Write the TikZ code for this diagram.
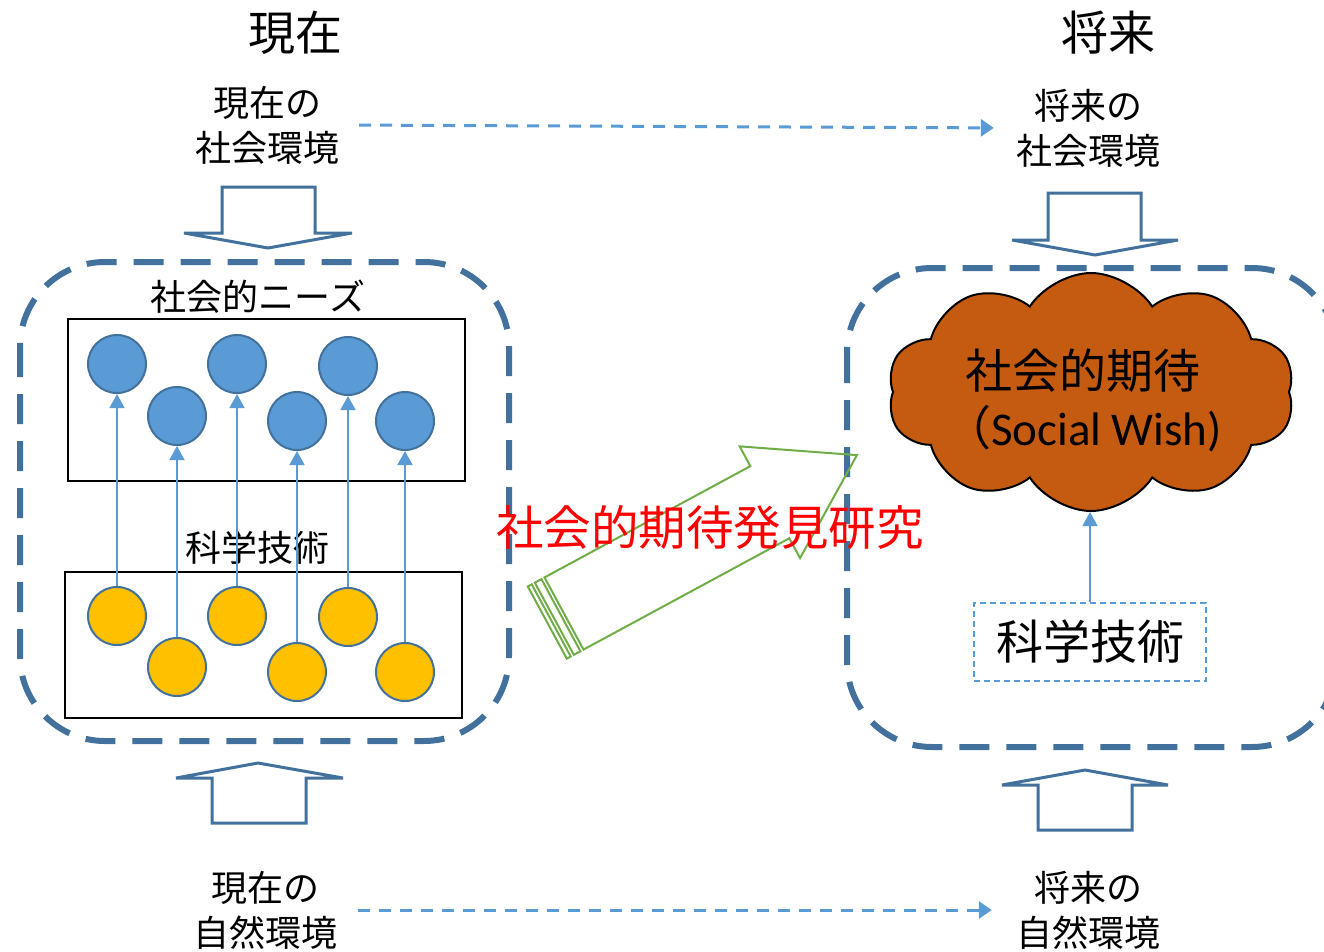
\documentclass[tikz,border=0pt]{standalone}
\usepackage{fontspec}
\setmainfont{Noto Sans CJK JP}
\newfontfamily\lat{Carlito}
\usetikzlibrary{shapes.symbols,arrows.meta}
\definecolor{boxblue}{HTML}{41719C}
\definecolor{lblue}{HTML}{5B9BD5}
\definecolor{gold}{HTML}{FFC000}
\definecolor{agreen}{HTML}{70AD47}
\definecolor{cloudor}{HTML}{C55A11}
\begin{document}
\begin{tikzpicture}[x=1pt,y=-1pt,
  title/.style={font=\fontsize{47}{54}\selectfont, inner sep=0},
  lbl/.style={font=\fontsize{36}{45}\selectfont, align=center, inner sep=0},
  big/.style={font=\fontsize{47}{57}\selectfont, inner sep=0},
  blk/.style={draw=boxblue, line width=3pt, line join=miter, fill=white},
  grp/.style={draw=boxblue, line width=6pt, dash pattern=on 30pt off 17pt, rounded corners=85pt},
  frame/.style={draw=black, line width=2.5pt},
  need/.style={circle, draw=boxblue, line width=2pt, fill=lblue, minimum size=58pt, inner sep=0},
  tech/.style={circle, draw=boxblue, line width=2pt, fill=gold, minimum size=58pt, inner sep=0},
  up/.style={draw=lblue, line width=1.5pt, -{Triangle[length=14pt,width=15pt]}},
  flow/.style={draw=lblue, line width=3pt, dash pattern=on 12pt off 9pt, -{Triangle[length=13pt,width=17pt]}},
  ga/.style={draw=agreen, line width=2pt, line join=miter},
]
\useasboundingbox (0,0) rectangle (1324,951);

% titles
\node[title] (tnow) at (295,33) {現在};
\node[title] (tfut) at (1108,33) {将来};

% social environment labels
\node[lbl] (snow) at (267,125) {現在の\\社会環境};
\node[lbl] (sfut) at (1088,128) {将来の\\社会環境};
\draw[flow, shorten <=20pt, shorten >=22pt] (snow.east) -- (sfut.west);

% natural environment labels
\node[lbl] (nnow) at (265,910) {現在の\\自然環境};
\node[lbl] (nfut) at (1088,910) {将来の\\自然環境};
\draw[flow, shorten <=21pt, shorten >=24pt] (nnow.east) -- (nfut.west);

% block arrows
\draw[blk] (222,187) -- (315,187) -- (315,233) -- (352,233) -- (268,248) -- (184,233) -- (222,233) -- cycle;
\draw[blk] (1048,193) -- (1141,193) -- (1141,240) -- (1178,240) -- (1095,255) -- (1012,240) -- (1048,240) -- cycle;
\draw[blk] (212,823) -- (306,823) -- (306,778) -- (343,778) -- (258,763) -- (176,778) -- (212,778) -- cycle;
\draw[blk] (1038,830) -- (1132,830) -- (1132,785) -- (1168,785) -- (1085,770) -- (1002,785) -- (1038,785) -- cycle;

% group boxes
\draw[grp] (20,262) rectangle (509,741);
\draw[grp] (847,268) rectangle (1337,747);

% left: needs and technology
\node[lbl] (needs) at (258,297) {社会的ニーズ};
\draw[frame] (68,319) rectangle (465,481);
\node[lbl] (techl) at (257,548) {科学技術};
\draw[frame] (65,572) rectangle (462,718);

\node[need] (b1) at (117,364) {};
\node[need] (b2) at (177,416) {};
\node[need] (b3) at (237,364) {};
\node[need] (b4) at (297,421) {};
\node[need] (b5) at (348,366) {};
\node[need] (b6) at (405,421) {};

\node[tech] (y1) at (117,616) {};
\node[tech] (y2) at (177,667) {};
\node[tech] (y3) at (237,616) {};
\node[tech] (y4) at (297,672) {};
\node[tech] (y5) at (348,617) {};
\node[tech] (y6) at (405,672) {};

\foreach \i in {1,...,6} { \draw[up] (y\i) -- (b\i); }

% green striped arrow
\begin{scope}[shift={(564,613.5)}, rotate=28.4]
  \draw[ga] (0,-41) -- (234,-41) -- (234,-63.5) -- (333,0) -- (234,63.5) -- (234,41) -- (0,41) -- cycle;
  \draw[ga] (-11,-41) rectangle (-3.5,41);
  \draw[ga] (-19,-41) rectangle (-14.5,41);
\end{scope}

\node[big, text=red, font=\fontsize{47.5}{57}\selectfont] (disc) at (710,527) {社会的期待発見研究};

% right: social wish
\node[cloud, cloud puffs=10, cloud puff arc=115, aspect=1.8, draw=black, line width=2pt, fill=cloudor, minimum width=407pt, minimum height=238pt, inner sep=0] (cloud) at (1091,392) {};
\node[big, align=center] (wish) at (1083,400) {社会的期待\\（{\lat Social Wish)}};

\node[big, draw=lblue, line width=1.5pt, dash pattern=on 6pt off 4pt, minimum width=232pt, minimum height=78pt] (sci) at (1090,642) {科学技術};
\draw[up] (sci.north) -- (sci.north |- cloud.south);
\end{tikzpicture}
\end{document}
